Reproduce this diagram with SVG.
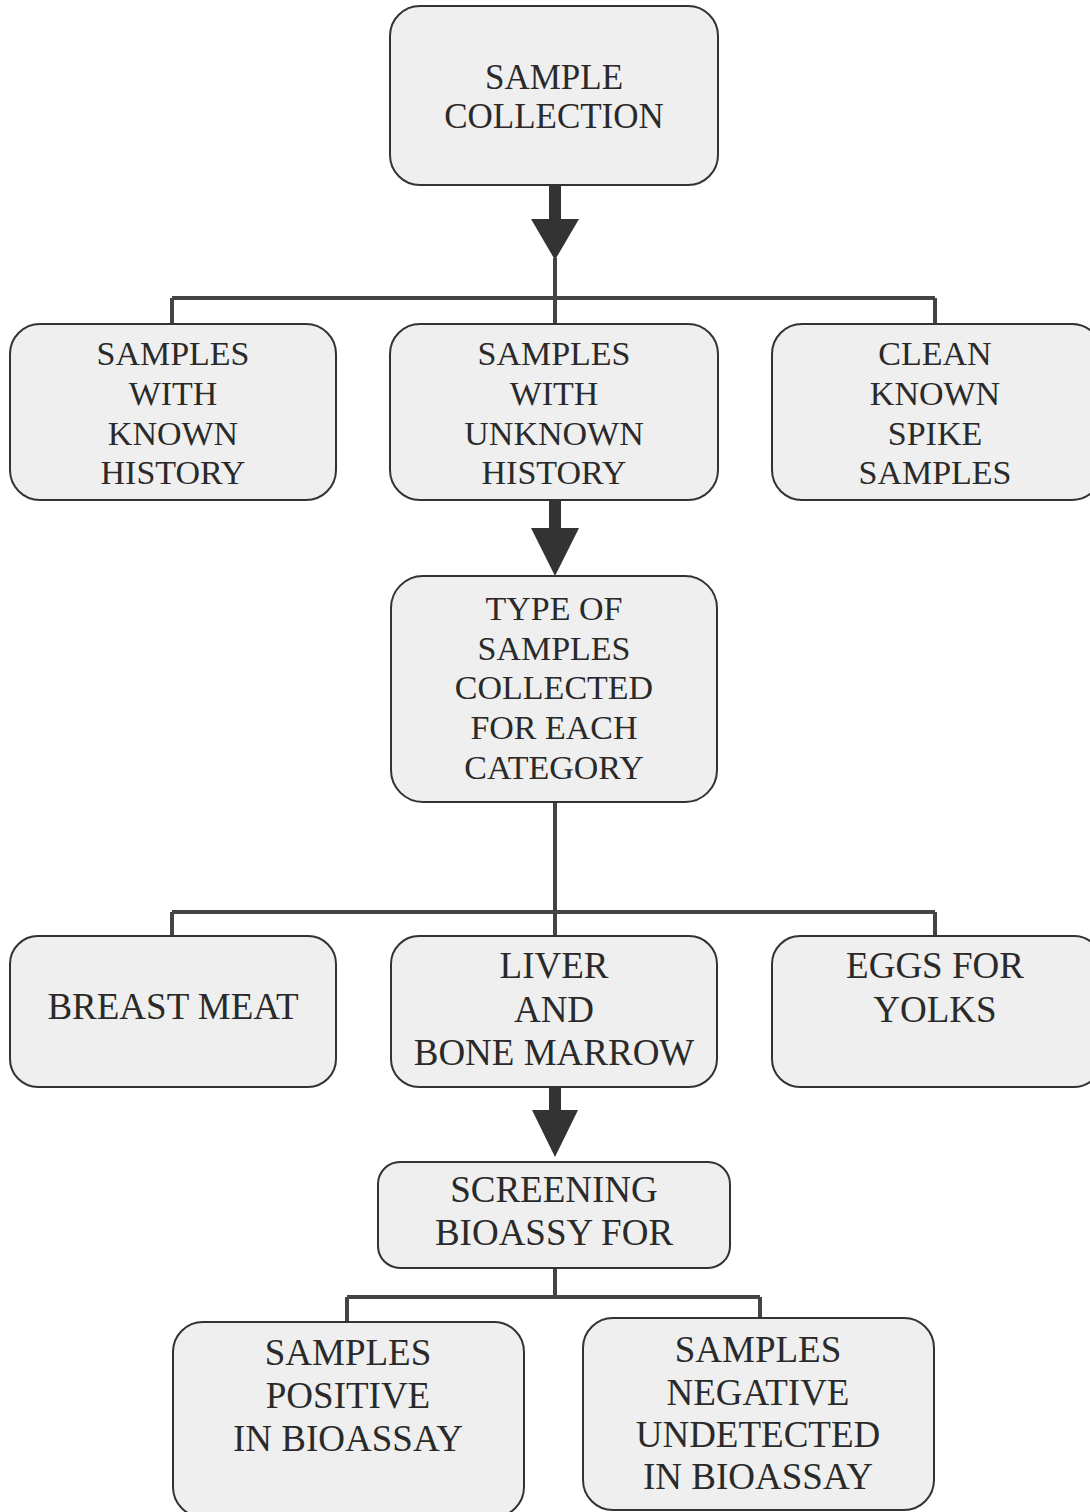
<svg xmlns="http://www.w3.org/2000/svg" width="1090" height="1512" viewBox="0 0 1090 1512">
<style>
.box{fill:#efefef;stroke:#333;stroke-width:2}
.t{font-family:"Liberation Serif","Times New Roman",serif;font-size:34px;fill:#2a2a2a;text-anchor:middle}
.t35{font-size:35px}
.t37{font-size:37px}
.ln{fill:none;stroke:#444;stroke-width:4}
.ar{fill:#333}
</style>
<rect width="1090" height="1512" fill="#ffffff"/>
<g id="connectors">
<rect class="ar" x="549" y="185" width="12" height="36"/>
<polygon class="ar" points="531,219 579,219 555,260"/>
<path class="ln" d="M555,258 V324 M172,298 H935 M172,298 V324 M935,298 V324"/>
<rect class="ar" x="549" y="500" width="12" height="30"/>
<polygon class="ar" points="531,528 579,528 555,576"/>
<path class="ln" d="M555,802 V936 M172,912 H935 M172,912 V936 M935,912 V936"/>
<rect class="ar" x="549" y="1087" width="12" height="25"/>
<polygon class="ar" points="532,1110 578,1110 555,1157"/>
<path class="ln" d="M555,1268 V1297 M347,1297 H760 M347,1297 V1322 M760,1297 V1318"/>
</g>
<g id="n1"><rect class="box" x="390" y="6" width="328" height="179" rx="30"/>
<text class="t t35" x="554" y="89">SAMPLE</text><text class="t t35" x="554" y="128">COLLECTION</text></g>
<g id="n2"><rect class="box" x="10" y="324" width="326" height="176" rx="30"/>
<text class="t" x="173" y="365">SAMPLES</text><text class="t" x="173" y="405">WITH</text><text class="t" x="173" y="445">KNOWN</text><text class="t" x="173" y="484">HISTORY</text></g>
<g id="n3"><rect class="box" x="390" y="324" width="328" height="176" rx="30"/>
<text class="t" x="554" y="365">SAMPLES</text><text class="t" x="554" y="405">WITH</text><text class="t" x="554" y="445">UNKNOWN</text><text class="t" x="554" y="484">HISTORY</text></g>
<g id="n4"><rect class="box" x="772" y="324" width="330" height="176" rx="30"/>
<text class="t" x="935" y="365">CLEAN</text><text class="t" x="935" y="405">KNOWN</text><text class="t" x="935" y="445">SPIKE</text><text class="t" x="935" y="484">SAMPLES</text></g>
<g id="n5"><rect class="box" x="391" y="576" width="326" height="226" rx="32"/>
<text class="t" x="554" y="620">TYPE OF</text><text class="t" x="554" y="660">SAMPLES</text><text class="t" x="554" y="699">COLLECTED</text><text class="t" x="554" y="739">FOR EACH</text><text class="t" x="554" y="779">CATEGORY</text></g>
<g id="n6"><rect class="box" x="10" y="936" width="326" height="151" rx="28"/>
<text class="t t37" x="173" y="1019">BREAST MEAT</text></g>
<g id="n7"><rect class="box" x="391" y="936" width="326" height="151" rx="28"/>
<text class="t t37" x="554" y="978">LIVER</text><text class="t t37" x="554" y="1022">AND</text><text class="t t37" x="554" y="1065">BONE MARROW</text></g>
<g id="n8"><rect class="box" x="772" y="936" width="330" height="151" rx="28"/>
<text class="t t37" x="935" y="978">EGGS FOR</text><text class="t t37" x="935" y="1022">YOLKS</text></g>
<g id="n9"><rect class="box" x="378" y="1162" width="352" height="106" rx="22"/>
<text class="t t37" x="554" y="1202">SCREENING</text><text class="t t37" x="554" y="1245">BIOASSY FOR</text></g>
<g id="n10"><rect class="box" x="173" y="1322" width="351" height="195" rx="30"/>
<text class="t t37" x="348" y="1365">SAMPLES</text><text class="t t37" x="348" y="1408">POSITIVE</text><text class="t t37" x="348" y="1451">IN BIOASSAY</text></g>
<g id="n11"><rect class="box" x="583" y="1318" width="351" height="192" rx="30"/>
<text class="t t37" x="758" y="1362">SAMPLES</text><text class="t t37" x="758" y="1405">NEGATIVE</text><text class="t t37" x="758" y="1447">UNDETECTED</text><text class="t t37" x="758" y="1489">IN BIOASSAY</text></g>
</svg>
